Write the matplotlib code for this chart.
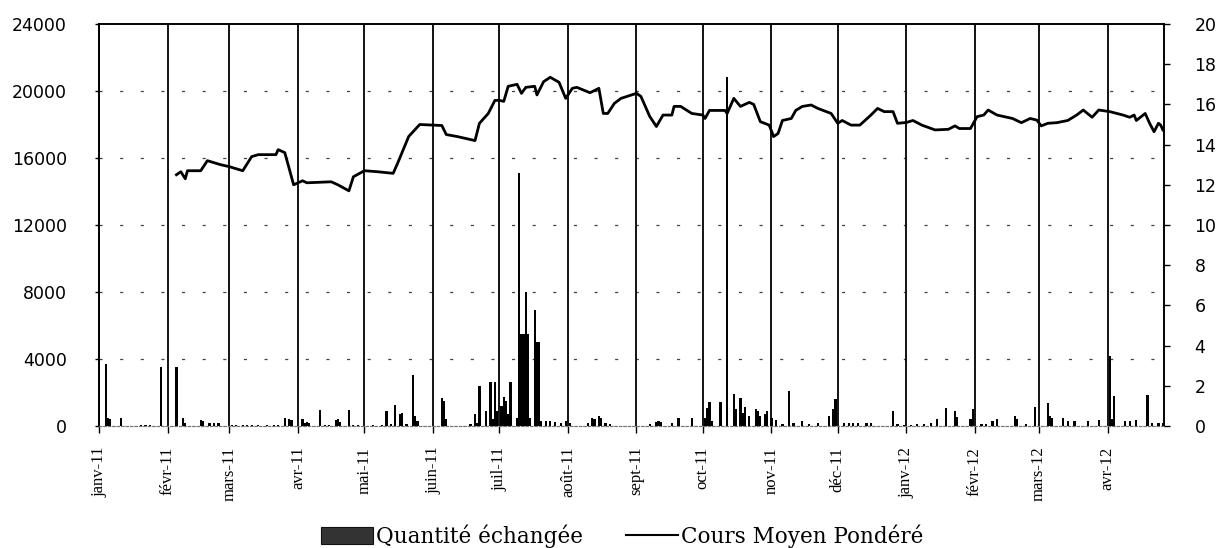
import matplotlib
matplotlib.use('Agg')
import matplotlib.pyplot as plt
import pandas as pd
from matplotlib.patches import Patch
from matplotlib.lines import Line2D

# ---------------- data ----------------
vol_dates = [
    '2011-01-04', '2011-01-05', '2011-01-06', '2011-01-11', '2011-01-20', '2011-01-22', '2011-01-24',
    '2011-01-29', '2011-02-05', '2011-02-08', '2011-02-09', '2011-02-16', '2011-02-17', '2011-02-20',
    '2011-02-22', '2011-02-24', '2011-03-02', '2011-03-04', '2011-03-07', '2011-03-09', '2011-03-11',
    '2011-03-14', '2011-03-18', '2011-03-21', '2011-03-23', '2011-03-26', '2011-03-28', '2011-03-29',
    '2011-04-03', '2011-04-04', '2011-04-05', '2011-04-06', '2011-04-11', '2011-04-13', '2011-04-15',
    '2011-04-18', '2011-04-19', '2011-04-20', '2011-04-24', '2011-04-26', '2011-04-28', '2011-05-05',
    '2011-05-09', '2011-05-11', '2011-05-13', '2011-05-15', '2011-05-17', '2011-05-18', '2011-05-20',
    '2011-05-23', '2011-05-24', '2011-05-25', '2011-06-05', '2011-06-06', '2011-06-07', '2011-06-18',
    '2011-06-20', '2011-06-21', '2011-06-22', '2011-06-25', '2011-06-27', '2011-06-28', '2011-06-29',
    '2011-06-30', '2011-07-02', '2011-07-03', '2011-07-04', '2011-07-05', '2011-07-06', '2011-07-09',
    '2011-07-10', '2011-07-11', '2011-07-12', '2011-07-13', '2011-07-14', '2011-07-15', '2011-07-17',
    '2011-07-18', '2011-07-19', '2011-07-20', '2011-07-22', '2011-07-24', '2011-07-26', '2011-07-29',
    '2011-07-31', '2011-08-02', '2011-08-10', '2011-08-12', '2011-08-13', '2011-08-15', '2011-08-16',
    '2011-08-18', '2011-08-20', '2011-09-07', '2011-09-10', '2011-09-11', '2011-09-12', '2011-09-17',
    '2011-09-20', '2011-09-26', '2011-10-02', '2011-10-03', '2011-10-04', '2011-10-05', '2011-10-09',
    '2011-10-12', '2011-10-15', '2011-10-16', '2011-10-18', '2011-10-19', '2011-10-20', '2011-10-22',
    '2011-10-25', '2011-10-26', '2011-10-27', '2011-10-29', '2011-10-30', '2011-11-01', '2011-11-03',
    '2011-11-06', '2011-11-09', '2011-11-11', '2011-11-15', '2011-11-18', '2011-11-22', '2011-11-27',
    '2011-11-29', '2011-11-30', '2011-12-04', '2011-12-06', '2011-12-08', '2011-12-10', '2011-12-14',
    '2011-12-16', '2011-12-26', '2011-12-28', '2011-12-31', '2012-01-03', '2012-01-06', '2012-01-09',
    '2012-01-12', '2012-01-15', '2012-01-19', '2012-01-23', '2012-01-24', '2012-01-30', '2012-01-31',
    '2012-02-04', '2012-02-06', '2012-02-09', '2012-02-11', '2012-02-19', '2012-02-20', '2012-02-24',
    '2012-02-28', '2012-03-05', '2012-03-06', '2012-03-07', '2012-03-12', '2012-03-14', '2012-03-17',
    '2012-03-23', '2012-03-28', '2012-04-02', '2012-04-03', '2012-04-04', '2012-04-09', '2012-04-11',
    '2012-04-14', '2012-04-19', '2012-04-21', '2012-04-24', '2012-04-26',
]
vol_values = [
    3700, 460, 400, 460, 50, 60, 50,
    3520, 3520, 460, 150, 360, 300, 160,
    200, 200, 50, 60, 40, 50, 60,
    40, 40, 50, 40, 460, 400, 360,
    400, 200, 250, 200, 960, 60, 60,
    360, 400, 260, 960, 60, 40, 50,
    80, 900, 100, 1250, 700, 800, 100,
    3050, 600, 300, 1700, 1500, 400, 100,
    700, 200, 2400, 900, 2600, 400, 2630,
    900, 1200, 1730, 1500, 700, 2630, 500,
    15100, 5500, 5500, 8000, 5500, 500, 6900,
    5000, 5000, 300, 300, 300, 250, 200,
    300, 150, 200, 500, 400, 600, 500,
    200, 100, 100, 240, 300, 240, 200,
    500, 500, 500, 1100, 1450, 300, 1450,
    20850, 1900, 1000, 1700, 800, 1150, 570,
    1000, 900, 570, 700, 900, 500, 360,
    100, 2100, 160, 300, 100, 160, 600,
    1000, 1600, 150, 200, 150, 200, 200,
    200, 900, 100, 60, 60, 100, 100,
    200, 400, 1100, 900, 560, 400, 1000,
    100, 100, 300, 400, 600, 400, 100,
    1160, 1400, 600, 450, 500, 300, 300,
    300, 360, 4200, 400, 1800, 300, 300,
    350, 1840, 200, 200, 200,
]

price_dates = [
    '2011-02-05', '2011-02-07', '2011-02-09', '2011-02-10', '2011-02-16', '2011-02-19', '2011-02-22',
    '2011-02-25', '2011-03-01', '2011-03-07', '2011-03-11', '2011-03-14', '2011-03-22', '2011-03-23',
    '2011-03-26', '2011-03-30', '2011-04-03', '2011-04-05', '2011-04-16', '2011-04-19', '2011-04-24',
    '2011-04-26', '2011-05-01', '2011-05-07', '2011-05-14', '2011-05-16', '2011-05-21', '2011-05-26',
    '2011-06-05', '2011-06-07', '2011-06-12', '2011-06-20', '2011-06-22', '2011-06-26', '2011-06-29',
    '2011-07-01', '2011-07-03', '2011-07-05', '2011-07-09', '2011-07-11', '2011-07-13', '2011-07-17',
    '2011-07-18', '2011-07-21', '2011-07-24', '2011-07-28', '2011-07-31', '2011-08-03', '2011-08-05',
    '2011-08-11', '2011-08-15', '2011-08-17', '2011-08-19', '2011-08-22', '2011-08-25', '2011-09-01',
    '2011-09-03', '2011-09-07', '2011-09-10', '2011-09-13', '2011-09-17', '2011-09-18', '2011-09-21',
    '2011-09-26', '2011-10-01', '2011-10-02', '2011-10-04', '2011-10-11', '2011-10-12', '2011-10-15',
    '2011-10-18', '2011-10-22', '2011-10-24', '2011-10-27', '2011-10-31', '2011-11-02', '2011-11-04',
    '2011-11-06', '2011-11-10', '2011-11-12', '2011-11-15', '2011-11-19', '2011-11-22', '2011-11-28',
    '2011-12-01', '2011-12-03', '2011-12-07', '2011-12-11', '2011-12-16', '2011-12-19', '2011-12-22',
    '2011-12-26', '2011-12-28', '2012-01-01', '2012-01-04', '2012-01-08', '2012-01-14', '2012-01-20',
    '2012-01-23', '2012-01-25', '2012-01-30', '2012-02-02', '2012-02-05', '2012-02-07', '2012-02-11',
    '2012-02-18', '2012-02-22', '2012-02-26', '2012-02-29', '2012-03-02', '2012-03-05', '2012-03-09',
    '2012-03-14', '2012-03-18', '2012-03-21', '2012-03-25', '2012-03-28', '2012-04-02', '2012-04-08',
    '2012-04-11', '2012-04-13', '2012-04-14', '2012-04-18', '2012-04-20', '2012-04-22', '2012-04-24',
    '2012-04-25', '2012-04-26',
]
price_values = [
    12.5, 12.65, 12.3, 12.7, 12.7, 13.2, 13.1,
    13.0, 12.9, 12.7, 13.4, 13.5, 13.5, 13.75,
    13.6, 12.0, 12.2, 12.1, 12.15, 12.0, 11.7,
    12.4, 12.7, 12.65, 12.57, 13.07, 14.4, 15.0,
    14.95, 14.5, 14.4, 14.2, 15.06, 15.55, 16.2,
    16.2, 16.15, 16.9, 17.0, 16.55, 16.85, 16.9,
    16.47, 17.13, 17.35, 17.1, 16.3, 16.8, 16.85,
    16.58, 16.8, 15.55, 15.55, 16.05, 16.3, 16.55,
    16.4, 15.4, 14.9, 15.47, 15.47, 15.9, 15.9,
    15.55, 15.47, 15.3, 15.7, 15.7, 15.55, 16.3,
    15.9, 16.1, 16.0, 15.14, 14.97, 14.4, 14.55,
    15.2, 15.3, 15.7, 15.9, 15.97, 15.8, 15.55,
    15.06, 15.2, 14.97, 14.97, 15.47, 15.8, 15.64,
    15.64, 15.06, 15.1, 15.2, 14.97, 14.73, 14.76,
    14.93, 14.8, 14.8, 15.39, 15.47, 15.72, 15.47,
    15.3, 15.09, 15.3, 15.22, 14.93, 15.06, 15.09,
    15.2, 15.47, 15.72, 15.36, 15.72, 15.64, 15.47,
    15.36, 15.47, 15.2, 15.55, 15.06, 14.64, 15.06,
    14.97, 14.73,
]

month_starts = ['2011-01-01', '2011-02-01', '2011-03-01', '2011-04-01', '2011-05-01', '2011-06-01',
                '2011-07-01', '2011-08-01', '2011-09-01', '2011-10-01', '2011-11-01', '2011-12-01',
                '2012-01-01', '2012-02-01', '2012-03-01', '2012-04-01']
month_labels = ['janv-11', 'févr-11', 'mars-11', 'avr-11', 'mai-11', 'juin-11', 'juil-11', 'août-11',
                'sept-11', 'oct-11', 'nov-11', 'déc-11', 'janv-12', 'févr-12', 'mars-12', 'avr-12']
left_ticks = [0, 4000, 8000, 12000, 16000, 20000, 24000]
right_ticks = [0, 2, 4, 6, 8, 10, 12, 14, 16, 18, 20]

# ---------------- figure ----------------
fig = plt.figure(figsize=(12.16, 5.48), dpi=100)
L, R, B, T = 99 / 1216, 1164 / 1216, 1 - 426 / 548, 1 - 24 / 548
ax = fig.add_axes([L, B, R - L, T - B])
ax2 = ax.twinx()

vd = pd.to_datetime(vol_dates)
pdts = pd.to_datetime(price_dates)
ms = pd.to_datetime(month_starts)

# horizontal sparse dashed grid (left axis)
for v in left_ticks[1:-1]:
    ax.axhline(v, color='#444444', lw=0.9, ls=(0, (2.5, 14)), zorder=1)
# vertical month grid
for d in ms[1:]:
    ax.axvline(d, color='black', lw=1.3, zorder=2)

ax.bar(vd, vol_values, width=1.0, color='black', align='center', zorder=3)
ax2.plot(pdts, price_values, color='black', lw=2.0, zorder=4)

ax.set_xlim(pd.Timestamp('2011-01-01'), pd.Timestamp('2012-04-26 12:00'))
ax.set_ylim(0, 24000)
ax2.set_ylim(0, 20)

ax.set_yticks(left_ticks)
ax.set_yticklabels([str(v) for v in left_ticks], fontfamily='DejaVu Sans', fontsize=12.5)
ax2.set_yticks(right_ticks)
ax2.set_yticklabels([str(v) for v in right_ticks], fontfamily='DejaVu Sans', fontsize=12.5)

ax.set_xticks(ms)
ax.set_xticklabels(month_labels, rotation=90, fontfamily='Liberation Serif', fontsize=12)
ax.tick_params(axis='x', length=5, width=1, pad=10, direction='out')
ax.tick_params(axis='y', length=3, width=1, pad=20)
ax2.tick_params(axis='y', length=4, width=1, pad=18)

for a in (ax, ax2):
    a.spines['top'].set_linewidth(1.2)
    a.spines['right'].set_linewidth(1.2)
    a.spines['left'].set_linewidth(1.3)
    a.spines['bottom'].set_color('#777777')
    a.spines['bottom'].set_linewidth(0.8)
    a.spines['bottom'].set_linestyle((0, (2, 2)))

handles = [Patch(facecolor='#333333', edgecolor='#111111', linewidth=0.8),
           Line2D([0], [0], color='black', lw=1.5)]
fig.legend(handles, ['Quantité échangée', 'Cours Moyen Pondéré'],
           loc='center', bbox_to_anchor=(622 / 1216, 1 - 536 / 548), ncol=2, frameon=False,
           prop={'family': 'DejaVu Serif', 'size': 15.5}, handlelength=2.4, handleheight=0.8,
           handletextpad=0.15, columnspacing=2.0, borderaxespad=0)

fig.savefig('out.png', dpi=100)
